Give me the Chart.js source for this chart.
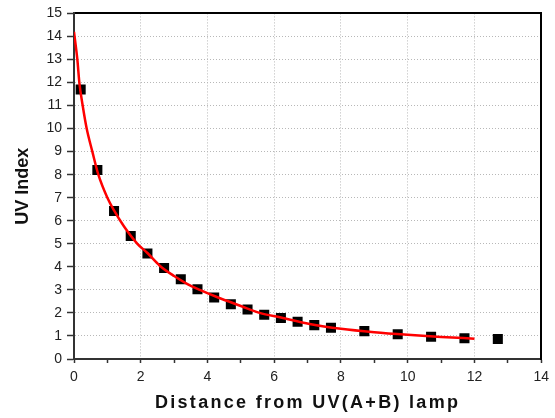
<!DOCTYPE html>
<html>
<head>
<meta charset="utf-8">
<script src="https://cdn.jsdelivr.net/npm/chart.js@4"></script>
<style>
html,body{margin:0;padding:0;background:#fff;}
#wrap{width:555px;height:418px;}
</style>
</head>
<body>
<div id="wrap"><canvas id="c" width="555" height="418"></canvas></div>
<script>
// Measured data points (distance, UV index)
const distances = [0.2, 0.7, 1.2, 1.7, 2.2, 2.7, 3.2, 3.7, 4.2, 4.7, 5.2, 5.7, 6.2, 6.7, 7.2, 7.7, 8.7, 9.7, 10.7, 11.7, 12.7];
const uvIndex   = [11.7, 8.2, 6.42, 5.34, 4.58, 3.95, 3.46, 3.03, 2.67, 2.38, 2.15, 1.92, 1.78, 1.62, 1.47, 1.36, 1.21, 1.07, 0.97, 0.90, 0.87];

// Fitted curve
const fitDistances = [0, 0.1, 0.16, 0.26, 0.38, 0.55, 0.73, 1.0, 1.2, 1.5, 1.9, 2.2, 2.57, 3.0, 3.4, 3.77, 4.3, 5.0, 5.56, 6.2, 7.06, 8, 9, 10, 11, 12];
const fitUV        = [14.2, 13.0, 12.0, 11.0, 10.0, 9.0, 8.0, 7.0, 6.45, 5.75, 5.0, 4.6, 4.05, 3.6, 3.25, 3.0, 2.68, 2.3, 2.0, 1.8, 1.52, 1.31, 1.16, 1.05, 0.96, 0.88];

const xLabelValues = [0, 2, 4, 6, 8, 10, 12, 14];
const xTitle = 'Distance from UV(A+B) lamp';
const yTitle = 'UV Index';

const FONT = "'Liberation Sans', Arial, Helvetica, sans-serif";
const GRID = '#b8b8b8';
const CLEAR = 'rgba(0,0,0,0)';

const spacingPlugin = {
  id: 'titleSpacing',
  afterDatasetsDraw(chart) { chart.ctx.letterSpacing = '2.3px'; },
  afterDraw(chart) { chart.ctx.letterSpacing = '0px'; }
};

new Chart(document.getElementById('c'), {
  type: 'scatter',
  data: {
    datasets: [
      {
        type: 'line',
        label: 'fit',
        data: fitDistances.map((x, i) => ({x: x, y: fitUV[i]})),
        borderColor: '#ff0000',
        borderWidth: 2.5,
        pointRadius: 0,
        fill: false,
        cubicInterpolationMode: 'monotone',
        order: 0
      },
      {
        type: 'scatter',
        label: 'UV Index',
        data: distances.map((x, i) => ({x: x, y: uvIndex[i]})),
        pointStyle: 'rect',
        pointRadius: 7.1,
        pointHoverRadius: 7.1,
        backgroundColor: '#000',
        borderWidth: 0,
        order: 1
      }
    ]
  },
  options: {
    responsive: false,
    animation: false,
    devicePixelRatio: 1,
    layout: { padding: { top: 12, right: 13, left: 0, bottom: 0 } },
    plugins: { legend: { display: false }, tooltip: { enabled: false } },
    scales: {
      x: {
        type: 'linear', position: 'bottom', min: 0, max: 14, weight: 0,
        ticks: {
          stepSize: 1, autoSkip: false, maxRotation: 0, padding: 6,
          color: '#222', font: { family: FONT, size: 14 },
          callback: (v) => xLabelValues.includes(v) ? String(v) : ''
        },
        grid: {
          color: (c) => (c.tick && c.tick.value % 2 === 0 && c.tick.value !== 0) ? GRID : CLEAR,
          lineWidth: 1, tickColor: '#333', tickLength: 4, tickWidth: 1.5, tickBorderDash: []
        },
        border: { display: true, color: '#333', width: 2, dash: [1, 2] },
        afterFit: (s) => { s.height = 30; }
      },
      xt: {
        type: 'linear', position: 'bottom', min: 0, max: 14, weight: 1,
        ticks: { display: false },
        grid: { display: false, z: 1 },
        border: { display: false },
        title: {
          display: true, text: xTitle, color: '#111',
          font: { family: FONT, size: 18, weight: 'bold' },
          padding: { top: 0, bottom: 4 }
        },
        afterFit: (s) => { s.height = 29; }
      },
      x2: {
        type: 'linear', position: 'top', min: 0, max: 14,
        ticks: { display: false },
        grid: { display: false },
        border: { display: true, color: '#000', width: 2 },
        afterFit: (s) => { s.height = 0; }
      },
      y: {
        type: 'linear', position: 'left', min: 0, max: 15,
        ticks: {
          stepSize: 1, autoSkip: false, padding: 5,
          color: '#222', font: { family: FONT, size: 14 }
        },
        grid: {
          color: (c) => (c.tick && c.tick.value !== 0) ? GRID : CLEAR,
          lineWidth: 1, tickColor: '#333', tickLength: 7, tickWidth: 1.5, tickBorderDash: []
        },
        border: { display: true, color: '#333', width: 2, dash: [1, 2] },
        title: {
          display: true, text: yTitle, color: '#111',
          font: { family: FONT, size: 18, weight: 'bold' },
          padding: { top: 12, bottom: 0 }
        },
        afterFit: (s) => { s.width = 74; }
      },
      y2: {
        type: 'linear', position: 'right', min: 0, max: 15,
        ticks: { display: false },
        grid: { display: false },
        border: { display: true, color: '#000', width: 2 },
        afterFit: (s) => { s.width = 0; }
      }
    }
  },
  plugins: [spacingPlugin]
});
</script>
</body>
</html>
